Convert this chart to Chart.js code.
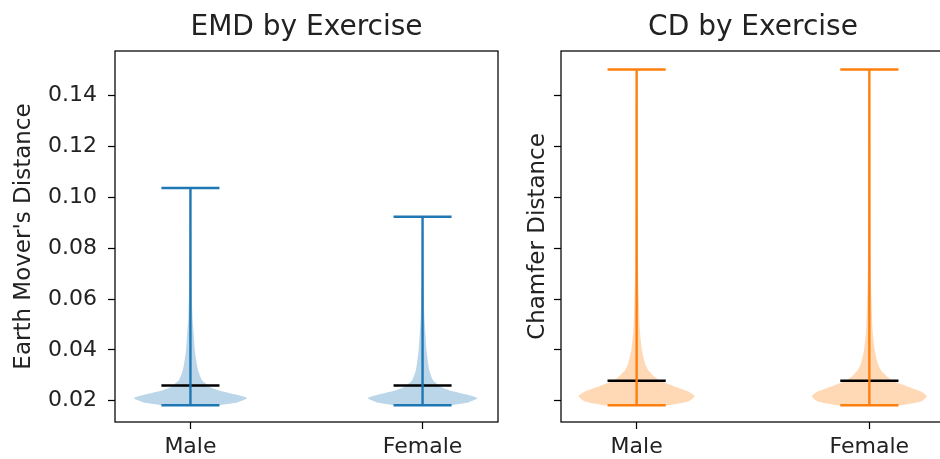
<!DOCTYPE html>
<html>
<head>
<meta charset="utf-8">
<script src="https://cdn.jsdelivr.net/npm/chart.js@4/dist/chart.umd.min.js"></script>
<style>
html,body{margin:0;padding:0;background:#fff;overflow:hidden;width:940px;height:459px}
#wrapL{position:absolute;left:0;top:0;width:510px;height:459px}
#wrapR{position:absolute;left:520px;top:0;width:440px;height:459px}
</style>
</head>
<body>
<div id="wrapL"><canvas id="emdChart"></canvas></div>
<div id="wrapR"><canvas id="cdChart"></canvas></div>
<script>
const categories=["Male","Female"];
const yTicks=[0.02,0.04,0.06,0.08,0.10,0.12,0.14];

// min / max / mean per category
const emdMin=[0.0182,0.0182], emdMax=[0.1037,0.0924], emdMean=[0.0260,0.0260];
const cdMin=[0.0182,0.0182], cdMax=[0.1503,0.1503], cdMean=[0.0278,0.0278];

// violin outline: y levels and half widths (x units)
const emdMaleY=[0.0182,0.0194,0.0210,0.0225,0.0241,0.0257,0.0269,0.0280,0.0320,0.0347,0.0398,0.0465,0.0527,0.0673,0.0869,0.1037];
const emdMaleW=[0.12,0.205,0.245,0.19,0.12,0.077,0.064,0.05,0.033,0.027,0.019,0.014,0.009,0.005,0.003,0.002];
const emdFemaleY=[0.0182,0.0194,0.0210,0.0225,0.0241,0.0257,0.0269,0.0280,0.0320,0.0347,0.0398,0.0465,0.0527,0.0673,0.0800,0.0924];
const emdFemaleW=[0.12,0.2,0.237,0.185,0.115,0.072,0.058,0.045,0.029,0.024,0.017,0.012,0.008,0.004,0.003,0.002];
const cdMaleY=[0.0182,0.0198,0.0218,0.0237,0.0257,0.0276,0.0292,0.0320,0.0347,0.0398,0.0476,0.0606,0.0739,0.0986,0.1503];
const cdMaleW=[0.14,0.225,0.249,0.22,0.16,0.105,0.08,0.05,0.036,0.023,0.014,0.009,0.006,0.004,0.002];
const cdFemaleY=[0.0182,0.0198,0.0218,0.0237,0.0257,0.0276,0.0292,0.0320,0.0347,0.0398,0.0476,0.0606,0.0739,0.0986,0.1503];
const cdFemaleW=[0.14,0.225,0.247,0.22,0.16,0.105,0.08,0.05,0.036,0.023,0.014,0.009,0.006,0.004,0.002];

const FONT="DejaVu Sans", TXT="#222";

function seg(a,b,color,w,order){
  return {data:[a,b],borderColor:color,borderWidth:w,borderCapStyle:"butt",pointRadius:0,fill:false,order:order};
}

function violin(pos,ys,ws,lo,hi,mean,color,fillColor){
  const right=ys.map((y,i)=>({x:pos+ws[i],y:y}));
  const left=ys.map((y,i)=>({x:pos-ws[i],y:y})).reverse();
  return [
    {data:[...right,...left],borderWidth:0,borderColor:"rgba(0,0,0,0)",backgroundColor:fillColor,pointRadius:0,fill:"shape",tension:0.2,order:5},
    seg({x:pos,y:lo},{x:pos,y:hi},color,2.4,2),
    seg({x:pos-0.125,y:lo},{x:pos+0.125,y:lo},color,2.4,2),
    seg({x:pos-0.125,y:hi},{x:pos+0.125,y:hi},color,2.4,2),
    seg({x:pos-0.125,y:mean},{x:pos+0.125,y:mean},"#000",2.5,3)
  ];
}

const frame={id:"frame",afterDatasetsDraw(c){
  const a=c.chartArea,x=c.ctx;
  x.save();x.strokeStyle="#000";x.lineWidth=1.25;
  x.strokeRect(a.left,a.top,a.right-a.left,a.bottom-a.top);
  x.restore();
}};

function opts(title,yLabel,showLabels,yWidth,titlePad,padRight){
  return {
    responsive:true,maintainAspectRatio:false,animation:false,events:[],
    layout:{padding:{left:0,right:padRight,top:0,bottom:0}},
    plugins:{
      legend:{display:false},tooltip:{enabled:false},
      title:{display:true,text:title,fullSize:false,color:TXT,font:{family:FONT,size:28,weight:"normal"},padding:{top:11,bottom:6.4}}
    },
    scales:{
      x:{type:"linear",min:0.675,max:2.325,
        grid:{drawOnChartArea:false,tickLength:7,tickWidth:1.25,tickColor:"#000"},border:{display:false},
        afterBuildTicks:s=>{s.ticks=categories.map((c,i)=>({value:i+1}));},
        afterFit:s=>{s.height=37;},
        ticks:{padding:5,color:TXT,maxRotation:0,autoSkip:false,font:{family:FONT,size:22},callback:(v,i)=>categories[i]}},
      y:{type:"linear",min:0.0116,max:0.1576,
        grid:{drawOnChartArea:false,tickLength:7,tickWidth:1.25,tickColor:"#000"},border:{display:false},
        afterBuildTicks:s=>{s.ticks=yTicks.map(v=>({value:v}));},
        afterFit:s=>{s.width=yWidth;},
        title:{display:true,text:yLabel,color:TXT,font:{family:FONT,size:23},padding:{top:titlePad,bottom:0}},
        ticks:{padding:11,color:TXT,autoSkip:false,font:{family:FONT,size:22},callback:v=>showLabels?v.toFixed(2):""}}
    }
  };
}

function draw(id,sets,o){
  new Chart(document.getElementById(id),{type:"line",data:{datasets:sets},options:o,plugins:[frame]});
}

const blue="#1f77b4", blueFill="rgba(31,119,180,0.3)";
const orange="#ff7f0e", orangeFill="rgba(255,127,14,0.3)";

draw("emdChart",[
  ...violin(1,emdMaleY,emdMaleW,emdMin[0],emdMax[0],emdMean[0],blue,blueFill),
  ...violin(2,emdFemaleY,emdFemaleW,emdMin[1],emdMax[1],emdMean[1],blue,blueFill)
],opts("EMD by Exercise","Earth Mover's Distance",true,115,10,12));

draw("cdChart",[
  ...violin(1,cdMaleY,cdMaleW,cdMin[0],cdMax[0],cdMean[0],orange,orangeFill),
  ...violin(2,cdFemaleY,cdFemaleW,cdMin[1],cdMax[1],cdMean[1],orange,orangeFill)
],opts("CD by Exercise","Chamfer Distance",false,41,4,15));
</script>
</body>
</html>
